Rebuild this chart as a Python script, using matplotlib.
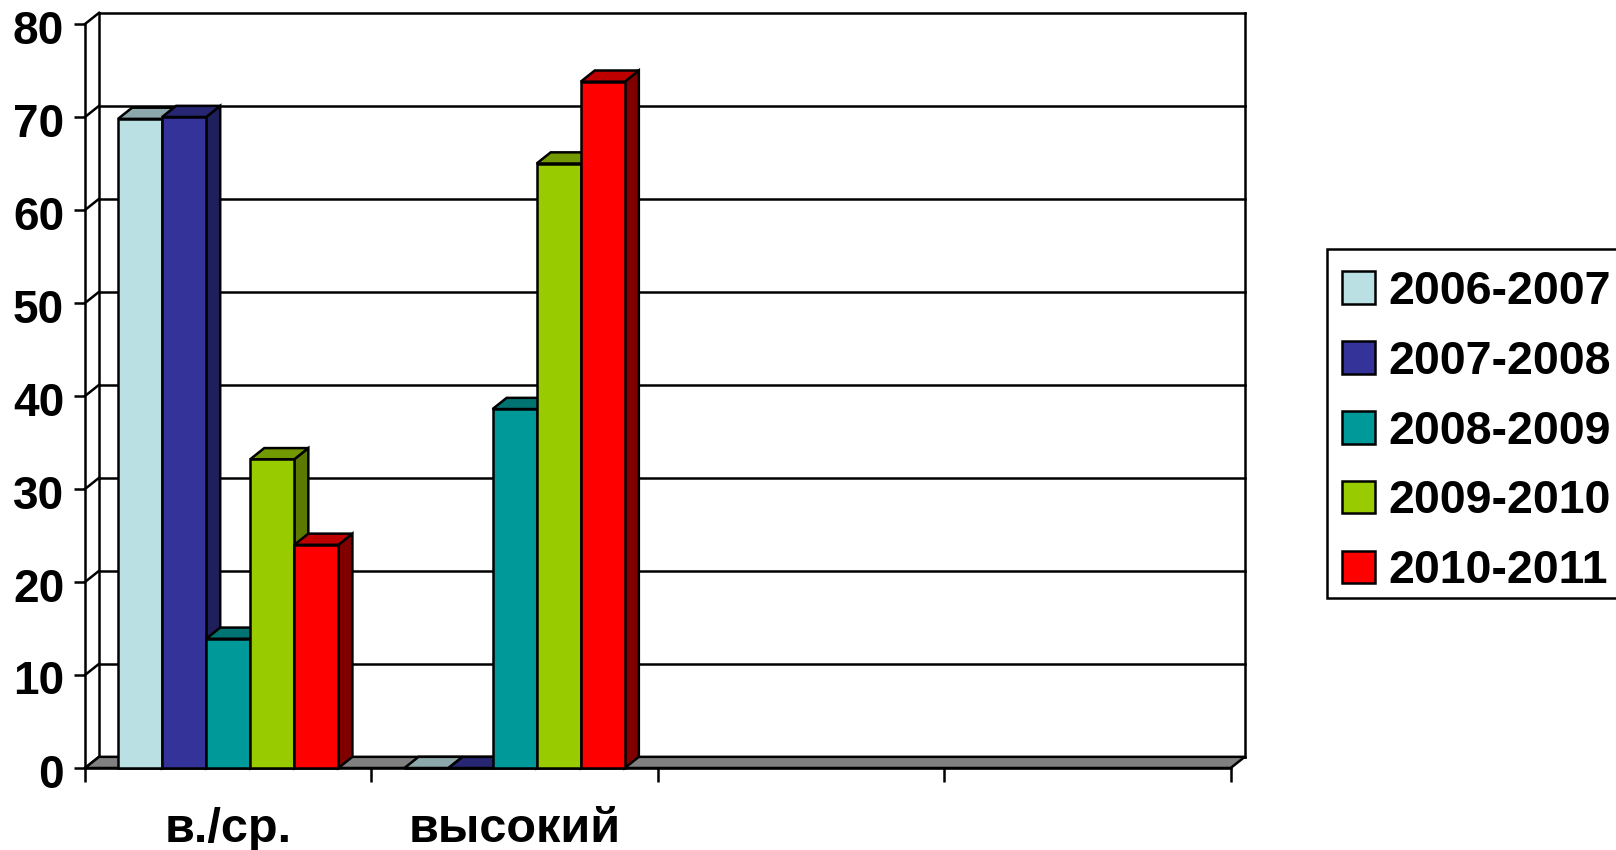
import matplotlib
matplotlib.use("Agg")
import matplotlib.pyplot as plt
from matplotlib.patches import Polygon, Rectangle
from matplotlib.transforms import ScaledTranslation

plt.rcParams['font.family'] = ['Liberation Sans', 'DejaVu Sans']
plt.rcParams['font.weight'] = 'bold'

categories = ["в./ср.", "высокий"]
years = ["2006-2007", "2007-2008", "2008-2009", "2009-2010", "2010-2011"]

# one list per school year, one value per category
values_2006 = [69.8, 0]
values_2007 = [70.0, 0]
values_2008 = [13.9, 38.6]
values_2009 = [33.2, 65.0]
values_2010 = [24.0, 73.8]
all_values = [values_2006, values_2007, values_2008, values_2009, values_2010]

y_ticks = [0, 10, 20, 30, 40, 50, 60, 70, 80]
n_slots = 4

front_colors = ["#BBE0E3", "#333399", "#009999", "#99CC00", "#FF0000"]
top_colors = ["#8CA8AA", "#262673", "#007373", "#739900", "#BF0000"]
side_colors = ["#708688", "#1F1F5C", "#005C5C", "#5C7A00", "#800000"]

LW = 1.8
bar_w = 1 / 6.5
# depth of the fake 3d box, in data units
dx = 0.049
dy = 1.2

W, H = 1616, 850
fig = plt.figure(figsize=(W / 100, H / 100), dpi=100, facecolor="white")
ax = fig.add_axes([85 / W, 1 - 768 / H, (1230.7 - 85) / W, (768 - 24) / H])
ax.set_xlim(0, n_slots)
ax.set_ylim(0, 80)
ax.set_axisbelow(True)

# back wall and floor
for v in y_ticks:
    ax.plot([dx, n_slots + dx], [v + dy, v + dy], color="black", lw=LW, zorder=0.5, clip_on=False)
    ax.plot([0, dx], [v, v + dy], color="black", lw=LW, zorder=0.5, clip_on=False)
ax.plot([dx, dx], [dy, 80 + dy], color="black", lw=LW, zorder=0.5, clip_on=False)
ax.plot([n_slots + dx, n_slots + dx], [dy, 80 + dy], color="black", lw=LW, zorder=0.5, clip_on=False)
floor = Polygon([(0, 0), (n_slots, 0), (n_slots + dx, dy), (dx, dy)], closed=True,
                facecolor="#808080", edgecolor="black", lw=LW, zorder=0.6, clip_on=False)
ax.add_patch(floor)

# bars, left to right so the later ones cover the side of the earlier ones
for j, series in enumerate(all_values):
    z = 3 + j
    xs = [i + 0.5 + (j - 2) * bar_w for i in range(len(categories))]
    for x, v in zip(xs, series):
        left = x - bar_w / 2
        right = x + bar_w / 2
        top = Polygon([(left, v), (right, v), (right + dx, v + dy), (left + dx, v + dy)], closed=True,
                      facecolor=top_colors[j], edgecolor="black", lw=LW, zorder=z, clip_on=False)
        side = Polygon([(right, 0), (right + dx, dy), (right + dx, v + dy), (right, v)], closed=True,
                       facecolor=side_colors[j], edgecolor="black", lw=LW, zorder=z, clip_on=False)
        ax.add_patch(side)
        ax.add_patch(top)
    ax.bar(xs, series, width=bar_w, color=front_colors[j], edgecolor="black", linewidth=LW,
           label=years[j], zorder=z, clip_on=False)

for name in ["top", "right"]:
    ax.spines[name].set_visible(False)
for name in ["left", "bottom"]:
    ax.spines[name].set_linewidth(LW)

ax.set_yticks(y_ticks)
ax.set_xticks(range(n_slots + 1))
ax.set_xticklabels([])
ax.set_xticks([i + 0.5 for i in range(len(categories))], minor=True)
ax.set_xticklabels(categories, minor=True)
ax.tick_params(axis="y", length=8, width=LW, pad=7, labelsize=33)
ax.tick_params(axis="x", which="major", length=10, width=LW)
ax.tick_params(axis="x", which="minor", length=0, pad=28, labelsize=35)

# tick labels sit a little below their ticks in the original
for label in ax.get_yticklabels():
    label.set_transform(label.get_transform() + ScaledTranslation(0, -2.5 / 100, fig.dpi_scale_trans))

# legend frame runs off the right edge of the picture
fig.add_artist(Rectangle((1326.7 / W, 1 - 598 / H), 400 / W, 349 / H, transform=fig.transFigure,
                         facecolor="white", edgecolor="black", lw=LW))
leg = fig.legend(loc="upper left", bbox_to_anchor=(1342 / W, 1 - 270 / H), bbox_transform=fig.transFigure,
                 fontsize=33.5, frameon=False, borderaxespad=0, borderpad=0, labelspacing=0.555,
                 handlelength=0.7, handleheight=0.7, handletextpad=0.3)

fig.savefig("out.png", dpi=100)
